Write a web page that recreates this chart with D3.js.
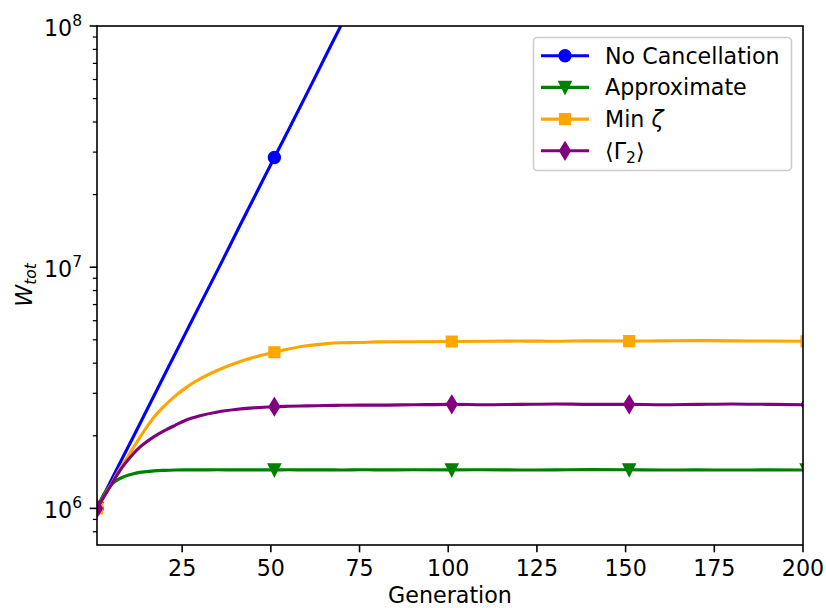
<!DOCTYPE html>
<html><head><meta charset="utf-8">
<script src="https://cdn.jsdelivr.net/npm/d3@7"></script>
<style>
html,body{margin:0;padding:0;background:#fff;}
text{font-family:"DejaVu Sans",sans-serif;}
</style></head>
<body>
<svg id="chart" width="826" height="608"></svg>
<script>
// ---- data ----
const seriesNames = ["No Cancellation", "Approximate", "Min ζ", "⟨Γ2⟩"];
const blueGens = [1,6,11,16,21,26,31,36,41,46,51,56,61,66,71,76,81];
const noCancellation = [1.0e6,1.40e6,1.95e6,2.73e6,3.82e6,5.34e6,7.46e6,1.04e7,1.46e7,2.04e7,2.85e7,3.97e7,5.55e7,7.8e7,1.09e8,1.52e8,2.1e8];
const gens = [1,3,5,7,9,11,13,15,17,20,23,26,30,35,40,45,51,55,60,65,70,75,80,90,101,110,120,130,140,151,160,170,180,190,201];
const approximate = [1.0e6,1.15e6,1.255e6,1.32e6,1.36e6,1.39e6,1.41e6,1.42e6,1.43e6,1.438e6,1.443e6,1.445e6,1.444e6,1.446e6,1.444e6,1.445e6,1.444e6,1.446e6,1.444e6,1.445e6,1.443e6,1.446e6,1.444e6,1.446e6,1.444e6,1.447e6,1.443e6,1.445e6,1.448e6,1.446e6,1.443e6,1.444e6,1.442e6,1.444e6,1.443e6];
const minZeta = [1.0e6,1.12e6,1.26e6,1.42e6,1.58e6,1.76e6,1.96e6,2.17e6,2.38e6,2.66e6,2.92e6,3.16e6,3.44e6,3.74e6,4.00e6,4.22e6,4.44e6,4.58e6,4.72e6,4.81e6,4.86e6,4.87e6,4.90e6,4.91e6,4.92e6,4.93e6,4.94e6,4.93e6,4.95e6,4.94e6,4.95e6,4.96e6,4.95e6,4.94e6,4.93e6];
const gamma2 = [1.0e6,1.12e6,1.25e6,1.40e6,1.54e6,1.67e6,1.79e6,1.89e6,1.98e6,2.10e6,2.21e6,2.32e6,2.42e6,2.51e6,2.57e6,2.61e6,2.64e6,2.65e6,2.66e6,2.67e6,2.675e6,2.68e6,2.68e6,2.69e6,2.70e6,2.69e6,2.70e6,2.71e6,2.70e6,2.70e6,2.69e6,2.70e6,2.71e6,2.70e6,2.69e6];
const markerGens = [1,51,101,151,201];
const xTicks = [25,50,75,100,125,150,175,200];
const yMajorTicks = [1e6,1e7,1e8];
const yTickExps = ["6","7","8"];
const xDomain = [1,200];
const yDomain = [7.05e5,1e8];

// ---- layout ----
const L = 97, R = 803, T = 26, B = 545;
const FS = 22.2, FSS = 15.5;
const svg = d3.select("#chart");
const x = d3.scaleLinear().domain(xDomain).range([L,R]);
const y = d3.scaleLog().domain(yDomain).range([B,T]);

svg.append("defs").append("clipPath").attr("id","clip")
  .append("rect").attr("x",L).attr("y",T).attr("width",R-L).attr("height",B-T);

const series = [
  {name:seriesNames[0], color:"#0000ff", gens:blueGens, vals:noCancellation, marker:"circle"},
  {name:seriesNames[1], color:"#008000", gens:gens, vals:approximate, marker:"tri"},
  {name:seriesNames[2], color:"#ffa500", gens:gens, vals:minZeta, marker:"square"},
  {name:seriesNames[3], color:"#800080", gens:gens, vals:gamma2, marker:"diamond"}
];

function markerPath(type){
  switch(type){
    case "circle": return d3.symbol(d3.symbolCircle, Math.PI*5.9*5.9)();
    case "tri": return "M-6,-5.8L6,-5.8L0,6.2Z";
    case "square": return "M-5.3,-5.3L5.3,-5.3L5.3,5.3L-5.3,5.3Z";
    case "diamond": return "M0,-8.6L5.2,0L0,8.6L-5.2,0Z";
  }
}

const plot = svg.append("g").attr("clip-path","url(#clip)");
const line = d3.line().curve(d3.curveMonotoneX);
series.forEach(s=>{
  const pts = s.gens.map((g,i)=>[x(g), y(s.vals[i])]);
  plot.append("path").attr("d", line(pts)).attr("fill","none")
    .attr("stroke", s.color).attr("stroke-width",3.1).attr("stroke-linejoin","round").attr("stroke-linecap","square");
  s.gens.forEach((g,i)=>{
    if(markerGens.includes(g)){
      plot.append("path").attr("d", markerPath(s.marker))
        .attr("transform",`translate(${x(g)},${y(s.vals[i])})`)
        .attr("fill", s.color).attr("stroke", s.color).attr("stroke-width",1.6);
    }
  });
});

// ---- axes ----
const ax = svg.append("g");
xTicks.forEach(t=>{
  ax.append("line").attr("x1",x(t)).attr("x2",x(t)).attr("y1",B).attr("y2",B+7.3).attr("stroke","#000").attr("stroke-width",1.6);
  ax.append("text").attr("x",x(t)).attr("y",576).attr("text-anchor","middle").attr("font-size",FS+"px").text(t);
});
const minors = [];
[5,6,7].forEach(e=>{ for(let k=2;k<=9;k++){ const v=k*Math.pow(10,e); if(v>=yDomain[0] && v<=yDomain[1]) minors.push(v);} });
minors.forEach(v=>{
  ax.append("line").attr("x1",L-4.2).attr("x2",L).attr("y1",y(v)).attr("y2",y(v)).attr("stroke","#000").attr("stroke-width",1.25);
});
yMajorTicks.forEach((v,i)=>{
  ax.append("line").attr("x1",L-7.3).attr("x2",L).attr("y1",y(v)).attr("y2",y(v)).attr("stroke","#000").attr("stroke-width",1.6);
  const t = ax.append("text").attr("x",82).attr("y",y(v)+9.8).attr("text-anchor","end").attr("font-size",FS+"px");
  t.append("tspan").text("10");
  t.append("tspan").attr("dy",-10).attr("font-size",FSS+"px").text(yTickExps[i]);
});
ax.append("rect").attr("x",L).attr("y",T).attr("width",R-L).attr("height",B-T)
  .attr("fill","none").attr("stroke","#000").attr("stroke-width",1.6);

// axis labels
svg.append("text").attr("x",450).attr("y",603).attr("text-anchor","middle").attr("font-size",FS+"px").text("Generation");
const yl = svg.append("text").attr("transform","translate(32,285) rotate(-90)").attr("text-anchor","middle").attr("font-size",FS+"px");
yl.append("tspan").attr("font-style","italic").text("W");
yl.append("tspan").attr("font-style","italic").attr("font-size",FSS+"px").attr("dy",4).text("tot");

// ---- legend ----
const lg = svg.append("g");
lg.append("rect").attr("x",533.5).attr("y",37.5).attr("width",258).attr("height",133).attr("rx",4)
  .attr("fill","#fff").attr("fill-opacity",0.8).attr("stroke","#cccccc").attr("stroke-width",1.6);
series.forEach((s,i)=>{
  const cy = 55.7 + i*31.7;
  lg.append("line").attr("x1",541).attr("x2",589).attr("y1",cy).attr("y2",cy).attr("stroke",s.color).attr("stroke-width",3.1);
  lg.append("path").attr("d",markerPath(s.marker)).attr("transform",`translate(565,${cy})`)
    .attr("fill",s.color).attr("stroke",s.color).attr("stroke-width",1.6);
  const t = lg.append("text").attr("x",605).attr("y",cy+8).attr("font-size",FS+"px");
  if(i===2){
    t.append("tspan").text("Min ");
    t.append("tspan").attr("font-style","italic").text("ζ");
  } else if(i===3){
    t.append("tspan").text("⟨Γ");
    t.append("tspan").attr("font-size",FSS+"px").attr("dy",4).text("2");
    t.append("tspan").attr("dy",-4).text("⟩");
  } else {
    t.text(s.name);
  }
});
</script>
</body></html>
